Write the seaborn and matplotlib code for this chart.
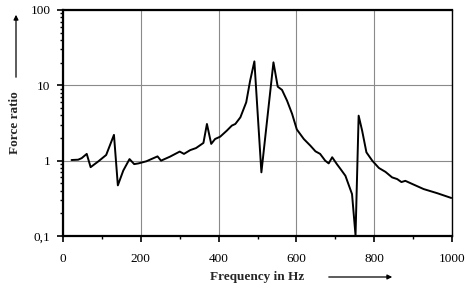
import numpy as np
import pandas as pd
import matplotlib
matplotlib.use("Agg")
import matplotlib.pyplot as plt
import seaborn as sns
from matplotlib.ticker import FixedLocator, FuncFormatter, LogLocator, NullFormatter

# --- DATA ---
freq = [22, 39, 48, 61, 71, 91, 111, 131, 141, 155, 171, 183, 194, 214, 243, 252,
        275, 300, 311, 327, 342, 361, 370, 381, 391, 404, 421, 434, 443, 456, 471,
        481, 492, 510, 541, 552, 563, 576, 589, 601, 619, 636, 649, 661, 674, 683,
        692, 704, 713, 726, 743, 752, 760, 769, 780, 795, 812, 829, 846, 859, 870,
        880, 898, 927, 962, 998]
ratio = [1.02, 1.03, 1.08, 1.23, 0.82, 0.98, 1.19, 2.2, 0.47, 0.74, 1.05, 0.90, 0.92,
         0.98, 1.14, 1.0, 1.13, 1.32, 1.23, 1.38, 1.47, 1.72, 3.07, 1.67, 1.94, 2.08,
         2.5, 2.92, 3.07, 3.76, 5.95, 11.5, 20.8, 0.70, 20.2, 9.6, 8.7, 6.25, 4.17,
         2.6, 1.94, 1.58, 1.33, 1.23, 1.0, 0.92, 1.11, 0.90, 0.78, 0.63, 0.36, 0.102,
         3.96, 2.5, 1.29, 1.0, 0.80, 0.71, 0.60, 0.57, 0.52, 0.54, 0.49, 0.42, 0.37,
         0.32]
x_ticks = [0, 200, 400, 600, 800, 1000]
y_ticks = [0.1, 1, 10, 100]
y_tick_labels = ["0,1", "1", "10", "100"]

df = pd.DataFrame({"Frequency": freq, "Force ratio": ratio})

sns.set_style("white")
plt.rcParams['font.family'] = ['Liberation Serif', 'DejaVu Serif']

fig = plt.figure(figsize=(4.66, 2.92), dpi=100)
ax = fig.add_axes([63 / 466, 1 - 236 / 292, (452 - 63) / 466, (236 - 10) / 292])

sns.lineplot(data=df, x="Frequency", y="Force ratio", color="black", linewidth=1.4, ax=ax)

ax.set_yscale("log")
ax.set_xlim(0, 1000)
ax.set_ylim(0.1, 100)
ax.xaxis.set_major_locator(FixedLocator(x_ticks))
ax.xaxis.set_minor_locator(FixedLocator([100, 300, 500, 700, 900]))
ax.yaxis.set_major_locator(FixedLocator(y_ticks))
ax.yaxis.set_major_formatter(FuncFormatter(lambda v, p: y_tick_labels[y_ticks.index(v)] if v in y_ticks else ""))
ax.yaxis.set_minor_locator(LogLocator(base=10, subs=np.arange(2, 10)))
ax.yaxis.set_minor_formatter(NullFormatter())

ax.grid(True, which="major", color="#8a8a8a", linewidth=0.8)
ax.tick_params(axis="both", which="major", direction="out", length=4, width=1.2,
               labelsize=9.5, colors="black", pad=5)
ax.tick_params(axis="both", which="minor", direction="out", length=2.5, width=1.0, colors="black")
ax.tick_params(axis="x", pad=8)
ax.tick_params(left=True, bottom=True, which="both")

for side in ["top", "left", "bottom"]:
    ax.spines[side].set_linewidth(1.6)
    ax.spines[side].set_color("black")
ax.spines["right"].set_linewidth(1.0)
ax.spines["right"].set_color("black")

ax.set_xlabel("")
ax.set_ylabel("")

# axis titles with arrows
fig.text(257 / 466, 1 - 277 / 292, "Frequency in Hz", ha="center", va="center",
         fontsize=9.5, fontweight="bold")
ax.annotate("", xy=(395 / 466, 1 - 277 / 292), xytext=(326 / 466, 1 - 277 / 292),
            xycoords="figure fraction", textcoords="figure fraction",
            arrowprops=dict(arrowstyle="-|>", color="black", lw=0.9, mutation_scale=7))
fig.text(15 / 466, 1 - 123 / 292, "Force ratio", ha="center", va="center",
         rotation=90, fontsize=9.5, fontweight="bold")
ax.annotate("", xy=(16 / 466, 1 - 12 / 292), xytext=(16 / 466, 1 - 80 / 292),
            xycoords="figure fraction", textcoords="figure fraction",
            arrowprops=dict(arrowstyle="-|>", color="black", lw=0.9, mutation_scale=7))

fig.savefig("out.png", dpi=100)
